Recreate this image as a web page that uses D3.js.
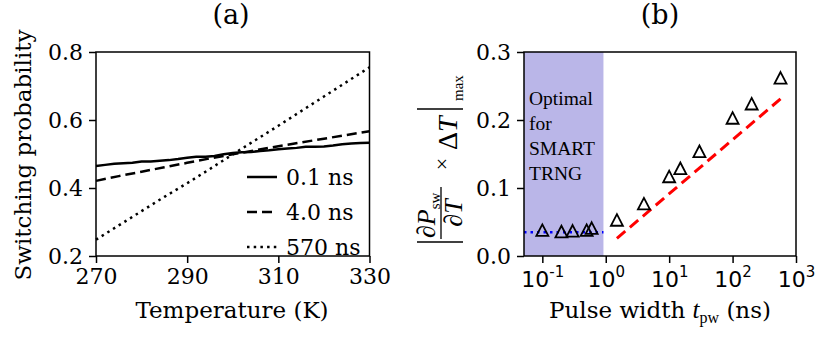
<!DOCTYPE html>
<meta charset="utf-8">
<style>
body { margin: 0; background: #fff; }
text { fill: #000; }
.tick text { font: 22px "DejaVu Serif"; }
.axis path, .axis line { stroke: #000; stroke-width: 1.5px; }
.frame { fill: none; stroke: #000; stroke-width: 1.5px; }
</style>
<svg width="831" height="340"></svg>
<script src="https://d3js.org/d3.v7.min.js"></script>
<script>

// panel (a): switching probability vs temperature
var tempSolid = [270, 272, 274, 276, 278, 280, 282, 284, 286, 288, 290, 292, 294, 296, 298, 300,
                 302, 304, 306, 308, 310, 312, 314, 316, 318, 320, 322, 324, 326, 328, 330];
var psw01 = [0.465, 0.468, 0.471, 0.473, 0.474, 0.478, 0.478, 0.480, 0.482, 0.485, 0.489, 0.492, 0.492,
             0.494, 0.499, 0.503, 0.505, 0.506, 0.509, 0.511, 0.514, 0.516, 0.518, 0.521, 0.521, 0.522,
             0.525, 0.529, 0.531, 0.532, 0.533];
var tempCoarse = [270, 275, 280, 285, 290, 295, 300, 305, 310, 315, 320, 325, 330];
var psw40 = [0.421, 0.435, 0.448, 0.461, 0.474, 0.487, 0.499, 0.511, 0.523, 0.534, 0.545, 0.556, 0.567];
var psw570 = [0.248, 0.290, 0.332, 0.374, 0.414, 0.456, 0.499, 0.541, 0.583, 0.626, 0.669, 0.712, 0.755];
var legendLabels = ["0.1 ns", "4.0 ns", "570 ns"];
var tempTicks = [270, 290, 310, 330];
var probTicks = [0.2, 0.4, 0.6, 0.8];

// panel (b): max sensitivity vs pulse width
var pulseNs = [0.1, 0.2, 0.3, 0.5, 0.6, 1.5, 4, 10, 15, 30, 100, 200, 570];
var sensMax = [0.038, 0.036, 0.037, 0.038, 0.041, 0.053, 0.077, 0.117, 0.129, 0.154, 0.203, 0.224, 0.262];
var fitNs = [1.5, 570];
var fitVal = [0.026, 0.231];
var floorNs = [0.0514, 0.92];
var floorVal = [0.035, 0.035];
var optimalRange = [0.0514, 0.92];
var pulseTicks = [0.1, 1, 10, 100, 1000];
var pulseExp = ["-1", "0", "1", "2", "3"];
var sensTicks = [0, 0.1, 0.2, 0.3];
var optimalText = ["Optimal", "for", "SMART", "TRNG"];

var svg = d3.select("svg");

// ---------- (a)
var xa = d3.scaleLinear().domain([270, 330]).range([96, 369.5]),
    ya = d3.scaleLinear().domain([0.2, 0.8]).range([256, 52]);

var ga = svg.append("g");

var line = d3.line().x(function(d) { return xa(d[0]); }).y(function(d) { return ya(d[1]); });
var styles = [
  {dash: null},
  {dash: "10,5"},
  {dash: "2.5,4.2"}
];
var seriesA = [d3.zip(tempSolid, psw01), d3.zip(tempCoarse, psw40), d3.zip(tempCoarse, psw570)];

seriesA.forEach(function(s, i) {
  ga.append("path")
      .datum(s)
      .attr("d", line)
      .attr("fill", "none")
      .attr("stroke", "#000")
      .attr("stroke-width", 2.5)
      .attr("stroke-dasharray", styles[i].dash);
});

ga.append("g")
    .attr("class", "axis")
    .attr("transform", "translate(0,256)")
    .call(d3.axisBottom(xa).tickValues(tempTicks).tickSize(7).tickPadding(5).tickSizeOuter(0))
    .select(".domain").remove();
ga.append("g")
    .attr("class", "axis")
    .attr("transform", "translate(96,0)")
    .call(d3.axisLeft(ya).tickValues(probTicks).tickSize(7).tickPadding(6).tickFormat(d3.format(".1f")).tickSizeOuter(0))
    .select(".domain").remove();
ga.append("rect").attr("class", "frame")
    .attr("x", xa.range()[0]).attr("y", ya.range()[1])
    .attr("width", xa.range()[1] - xa.range()[0]).attr("height", ya.range()[0] - ya.range()[1]);

// legend
var leg = ga.selectAll(".leg").data(legendLabels).enter().append("g")
    .attr("transform", function(d, i) { return "translate(247," + (177 + i * 35) + ")"; });
leg.append("line")
    .attr("x1", 0).attr("x2", 30)
    .attr("stroke", "#000").attr("stroke-width", 2.5)
    .attr("stroke-dasharray", function(d, i) { return styles[i].dash; });
leg.append("text")
    .attr("x", 39).attr("y", 8)
    .style("font", "22px 'DejaVu Serif'")
    .text(function(d) { return d; });

ga.append("text")
    .attr("x", 232).attr("y", 318)
    .attr("text-anchor", "middle")
    .style("font", "23px 'DejaVu Serif'")
    .text("Temperature (K)");
ga.append("text")
    .attr("transform", "translate(31,155) rotate(-90)")
    .attr("text-anchor", "middle")
    .style("font", "23px 'DejaVu Serif'")
    .text("Switching probability");
ga.append("text")
    .attr("x", 231).attr("y", 24)
    .attr("text-anchor", "middle")
    .style("font", "27px 'DejaVu Serif'")
    .text("(a)");

// ---------- (b)
var xb = d3.scaleLog().domain([0.0514, 1000]).range([524, 796]),
    yb = d3.scaleLinear().domain([0, 0.3]).range([256, 52]);

var gb = svg.append("g");

gb.append("rect")
    .attr("x", xb(optimalRange[0])).attr("y", yb(0.3))
    .attr("width", xb(optimalRange[1]) - xb(optimalRange[0]))
    .attr("height", yb(0) - yb(0.3))
    .attr("fill", "#bab6e8");

gb.selectAll(".opt").data(optimalText).enter().append("text")
    .attr("x", 529).attr("y", function(d, i) { return 105 + i * 25; })
    .style("font", "19.5px 'Liberation Serif'")
    .text(function(d) { return d; });

var lineB = d3.line().x(function(d) { return xb(d[0]); }).y(function(d) { return yb(d[1]); });

gb.append("path")
    .datum(d3.zip(floorNs, floorVal))
    .attr("d", lineB)
    .attr("fill", "none").attr("stroke", "#0000ff").attr("stroke-width", 2.5)
    .attr("stroke-dasharray", "2.5,4");

gb.append("path")
    .datum(d3.zip(fitNs, fitVal))
    .attr("d", lineB)
    .attr("fill", "none").attr("stroke", "#ff0000").attr("stroke-width", 3)
    .attr("stroke-dasharray", "11,6");

gb.selectAll(".tri").data(d3.zip(pulseNs, sensMax)).enter().append("path")
    .attr("transform", function(d) { return "translate(" + xb(d[0]) + "," + yb(d[1]) + ")"; })
    .attr("d", "M0,-5.8L6,5.8L-6,5.8Z")
    .attr("fill", "none").attr("stroke", "#000").attr("stroke-width", 1.8)
    .attr("stroke-linejoin", "miter");

var xAxisB = gb.append("g")
    .attr("class", "axis")
    .attr("transform", "translate(0,256)")
    .call(d3.axisBottom(xb).tickValues(pulseTicks).tickSize(7).tickFormat("").tickSizeOuter(0));
xAxisB.select(".domain").remove();
var lbl = xAxisB.selectAll(".tick").append("text")
    .attr("y", 31)
    .attr("text-anchor", "middle")
    .style("font", "22px 'DejaVu Sans'");
lbl.append("tspan").text("10");
lbl.append("tspan")
    .attr("dy", -10)
    .style("font-size", "15px")
    .text(function(d, i) { return pulseExp[i]; });

gb.append("g")
    .attr("class", "axis")
    .attr("transform", "translate(524,0)")
    .call(d3.axisLeft(yb).tickValues(sensTicks).tickSize(7).tickPadding(6).tickFormat(d3.format(".1f")).tickSizeOuter(0))
    .select(".domain").remove();

gb.append("rect").attr("class", "frame")
    .attr("x", 524).attr("y", 52).attr("width", 272).attr("height", 204);

var xl = gb.append("text")
    .attr("x", 660).attr("y", 318)
    .attr("text-anchor", "middle")
    .style("font", "23px 'DejaVu Serif'");
xl.append("tspan").text("Pulse width ");
xl.append("tspan").style("font", "italic 25px 'Liberation Serif'").text("t");
xl.append("tspan").attr("dy", 5).style("font", "16px 'Liberation Serif'").text("pw");
xl.append("tspan").attr("dy", -5).text(" (ns)");

gb.append("text")
    .attr("x", 660).attr("y", 24)
    .attr("text-anchor", "middle")
    .style("font", "27px 'DejaVu Serif'")
    .text("(b)");

// y label: |dP_sw/dT x dT|_max
var yl = gb.append("g").attr("transform", "translate(440,154) rotate(-90)");
yl.append("line").attr("x1", -88).attr("x2", -88).attr("y1", -23).attr("y2", 23)
    .attr("stroke", "#000").attr("stroke-width", 1.7);
yl.append("line").attr("x1", 45).attr("x2", 45).attr("y1", -23).attr("y2", 23)
    .attr("stroke", "#000").attr("stroke-width", 1.7);
yl.append("line").attr("x1", -85).attr("x2", -33).attr("y1", 1).attr("y2", 1)
    .attr("stroke", "#000").attr("stroke-width", 1.3);
var num = yl.append("text").attr("x", -84).attr("y", -5)
    .style("font", "italic 26px 'Liberation Serif'");
num.append("tspan").text("∂P");
num.append("tspan").attr("dy", 5).style("font", "15px 'Liberation Serif'").text("sw");
yl.append("text").attr("x", -59).attr("y", 22).attr("text-anchor", "middle")
    .style("font", "italic 26px 'Liberation Serif'").text("∂T");
yl.append("text").attr("x", -10).attr("y", 9).attr("text-anchor", "middle")
    .style("font", "22px 'Liberation Serif'").text("×");
var dt = yl.append("text").attr("x", 4).attr("y", 17)
    .style("font", "28px 'Liberation Serif'");
dt.append("tspan").text("Δ");
dt.append("tspan").style("font-style", "italic").text("T");
yl.append("text").attr("x", 53).attr("y", 23)
    .style("font", "15px 'Liberation Serif'").text("max");

</script>
